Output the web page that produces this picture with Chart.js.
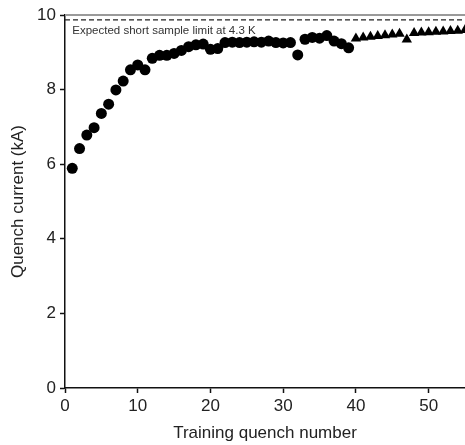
<!DOCTYPE html>
<html>
<head>
<meta charset="utf-8">
<script src="https://cdn.jsdelivr.net/npm/chart.js@4.4.1/dist/chart.umd.min.js"></script>
<style>
    html, body { margin: 0; padding: 0; background: #fff; overflow: hidden; }
    canvas { display: block; }
</style>
</head>
<body>
<canvas id="myChart" width="465" height="445"></canvas>
<script>
/**
 *  Data
 */
var circleQuench = [1, 2, 3, 4, 5, 6, 7, 8, 9, 10, 11, 12, 13, 14, 15, 16, 17, 18, 19, 20,
    21, 22, 23, 24, 25, 26, 27, 28, 29, 30, 31, 32, 33, 34, 35, 36, 37, 38, 39];
var circleCurrent = [5.89, 6.42, 6.78, 6.98, 7.36, 7.61, 7.99, 8.23, 8.53, 8.66, 8.53, 8.84, 8.92, 8.92, 8.97, 9.05, 9.15, 9.2, 9.22, 9.08,
    9.1, 9.26, 9.27, 9.26, 9.27, 9.28, 9.27, 9.3, 9.26, 9.25, 9.26, 8.93, 9.35, 9.4, 9.38, 9.45, 9.3, 9.23, 9.12];
var triangleQuench = [40, 41, 42, 43, 44, 45, 46, 47, 48, 49, 50, 51, 52, 53, 54, 55];
var triangleCurrent = [9.37, 9.4, 9.42, 9.44, 9.46, 9.48, 9.5, 9.34, 9.52, 9.53, 9.54, 9.55, 9.56, 9.57, 9.58, 9.6];
var limitQuench = [0, 55];
var limitCurrent = [9.87, 9.87];
var limitLabel = "Expected short sample limit at 4.3 K";
var xTicks = [0, 10, 20, 30, 40, 50];
var yTicks = [0, 2, 4, 6, 8, 10];

var toPoints = function (xs, ys) {
    return xs.map(function (x, i) { return { x: x, y: ys[i] }; });
};

var fontFamily = "'Liberation Sans', Arial, sans-serif";

var frameAndLabel = {
    id: "frameAndLabel",
    afterDatasetsDraw: function (chart) {
        var ctx = chart.ctx;
        var area = chart.chartArea;
        var xs = chart.scales.x;
        var ys = chart.scales.y;
        ctx.save();
        // top frame line
        ctx.strokeStyle = "#9a9a9a";
        ctx.lineWidth = 2;
        ctx.beginPath();
        ctx.moveTo(area.left, area.top);
        ctx.lineTo(chart.width, area.top);
        ctx.stroke();
        // limit label
        ctx.fillStyle = "#333";
        ctx.font = "11.5px " + fontFamily;
        ctx.textBaseline = "top";
        ctx.textAlign = "left";
        ctx.fillText(limitLabel, xs.getPixelForValue(1), ys.getPixelForValue(limitCurrent[0]) + 5);
        ctx.restore();
    }
};

new Chart(document.getElementById("myChart"), {
    type: "scatter",
    data: {
        datasets: [{
            label: "circles",
            data: toPoints(circleQuench, circleCurrent),
            pointStyle: "circle",
            pointRadius: 5.5,
            backgroundColor: "#000",
            borderColor: "#000",
            borderWidth: 0
        }, {
            label: "triangles",
            data: toPoints(triangleQuench, triangleCurrent),
            pointStyle: "triangle",
            pointRadius: 6,
            backgroundColor: "#000",
            borderColor: "#000",
            borderWidth: 0
        }, {
            type: "line",
            label: "limit",
            data: toPoints(limitQuench, limitCurrent),
            borderColor: "#222",
            borderWidth: 1.2,
            borderDash: [5, 3],
            pointRadius: 0,
            fill: false
        }]
    },
    options: {
        responsive: false,
        animation: false,
        events: [],
        layout: { autoPadding: false, padding: { top: 15, right: 0, left: 0, bottom: 0 } },
        plugins: {
            legend: { display: false },
            tooltip: { enabled: false }
        },
        scales: {
            x: {
                type: "linear",
                min: 0,
                max: 55,
                afterFit: function (scale) {
                    scale.height = 57;
                    scale.paddingRight = 0;
                    scale.paddingLeft = 0;
                },
                afterBuildTicks: function (scale) {
                    scale.ticks = xTicks.map(function (v) { return { value: v }; });
                },
                border: { display: true, color: "#111", width: 1.5 },
                grid: { display: true, drawOnChartArea: false, drawTicks: true, tickLength: 5, tickColor: "#111", tickWidth: 1.5 },
                ticks: { color: "#222", font: { family: fontFamily, size: 17 }, padding: 3, maxRotation: 0 },
                title: {
                    display: true,
                    text: "Training quench number",
                    color: "#222",
                    font: { family: fontFamily, size: 17 },
                    padding: { top: 1, bottom: 1 }
                }
            },
            y: {
                type: "linear",
                min: 0,
                max: 10,
                afterFit: function (scale) { scale.width = 65; },
                afterBuildTicks: function (scale) {
                    scale.ticks = yTicks.map(function (v) { return { value: v }; });
                },
                border: { display: true, color: "#111", width: 1.5 },
                grid: { display: true, drawOnChartArea: false, drawTicks: true, tickLength: 5, tickColor: "#111", tickWidth: 1.5 },
                ticks: { color: "#222", font: { family: fontFamily, size: 17 }, padding: 4 },
                title: {
                    display: true,
                    text: "Quench current (kA)",
                    color: "#222",
                    font: { family: fontFamily, size: 17 },
                    padding: { top: 8, bottom: 0 }
                }
            }
        }
    },
    plugins: [frameAndLabel]
});
</script>
</body>
</html>
